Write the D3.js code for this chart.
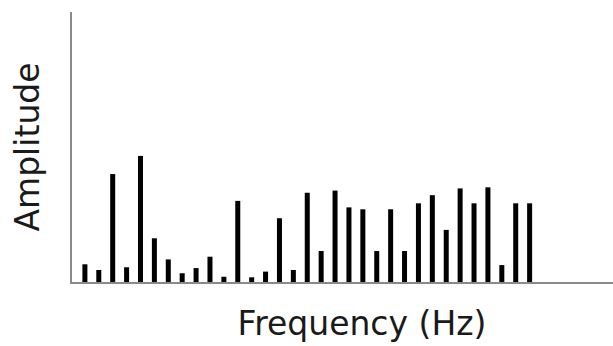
<!DOCTYPE html>
<html>
<head>
<meta charset="utf-8">
<script src="https://cdn.jsdelivr.net/npm/d3@7"></script>
<style>
  html, body { margin: 0; padding: 0; background: #fff; }
  svg { display: block; }
</style>
</head>
<body>
<svg id="chart" width="613" height="346"></svg>
<script>
// Data
const frequencies = d3.range(1, 34);
const amplitudes = [0.69, 0.48, 4.02, 0.58, 4.69, 1.65, 0.87, 0.36, 0.55, 0.97,
                    0.23, 3.03, 0.21, 0.42, 2.39, 0.48, 3.33, 1.18, 3.41, 2.79,
                    2.72, 1.18, 2.72, 1.18, 2.94, 3.24, 1.96, 3.49, 2.94, 3.53,
                    0.66, 2.94, 2.94];
const xLabel = "Frequency (Hz)";
const yLabel = "Amplitude";

const svg = d3.select("#chart");
const x0 = 71, x1 = 613, yBase = 283, yTop = 12;

const x = d3.scaleLinear().domain([0, 39]).range([x0, x1]);
const y = d3.scaleLinear().domain([0, 10]).range([yBase, yTop]);

const data = frequencies.map((f, i) => ({ f, a: amplitudes[i] }));
const barW = 5;

svg.append("g").selectAll("rect").data(data).join("rect")
  .attr("x", d => x(d.f) - barW / 2)
  .attr("y", d => y(d.a))
  .attr("width", barW)
  .attr("height", d => y(0) - y(d.a))
  .attr("fill", "#000");

// axes (plain lines, no ticks)
svg.append("line")
  .attr("x1", x(0)).attr("x2", x(0))
  .attr("y1", y(10)).attr("y2", y(0))
  .attr("stroke", "#8a8a8a").attr("stroke-width", 2);
svg.append("line")
  .attr("x1", x(0) - 1).attr("x2", x(39))
  .attr("y1", y(0)).attr("y2", y(0))
  .attr("stroke", "#8a8a8a").attr("stroke-width", 2);

svg.append("text")
  .attr("x", 362).attr("y", 335)
  .attr("text-anchor", "middle")
  .attr("font-family", "DejaVu Sans")
  .attr("font-size", 33)
  .attr("fill", "#1a1a1a")
  .text(xLabel);

svg.append("text")
  .attr("transform", "translate(39,147) rotate(-90)")
  .attr("text-anchor", "middle")
  .attr("font-family", "DejaVu Sans")
  .attr("font-size", 33)
  .attr("fill", "#1a1a1a")
  .text(yLabel);
</script>
</body>
</html>
